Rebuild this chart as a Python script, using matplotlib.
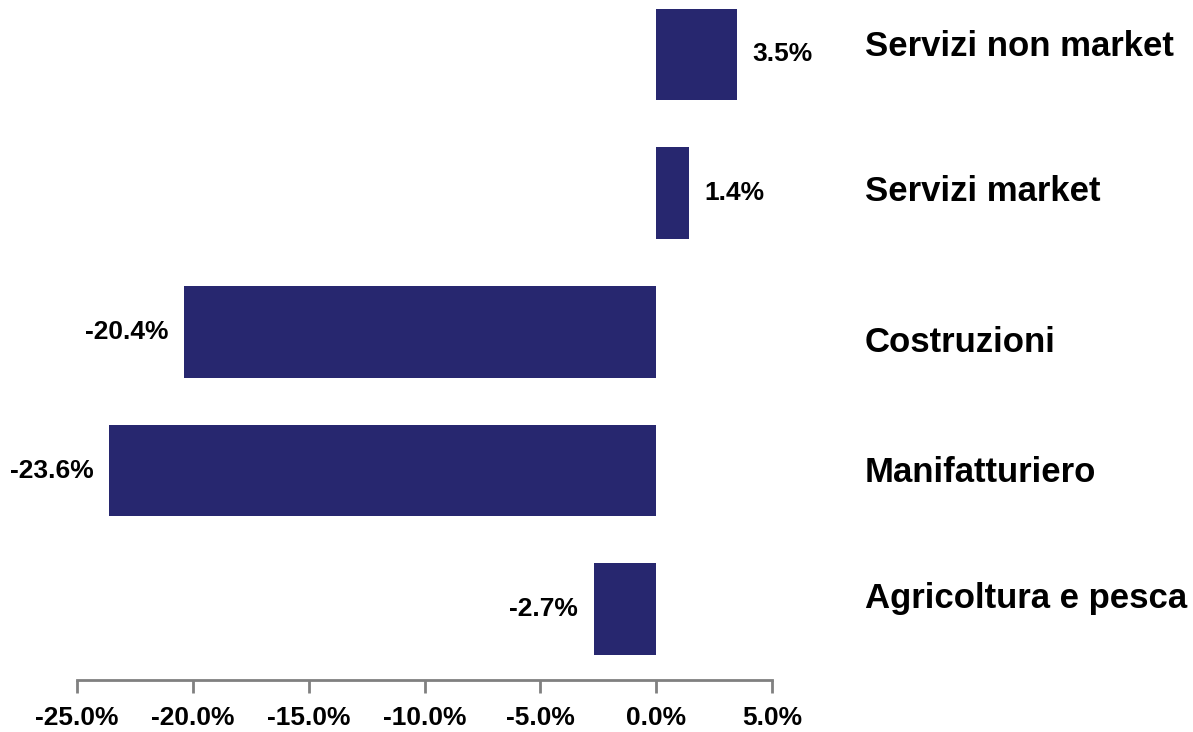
import matplotlib
matplotlib.use("Agg")
import matplotlib.pyplot as plt
from matplotlib.ticker import FuncFormatter
from matplotlib import transforms

# sectors, bottom to top
settori = ["Agricoltura e pesca", "Manifatturiero", "Costruzioni", "Servizi market", "Servizi non market"]
variazioni = [-2.7, -23.6, -20.4, 1.4, 3.5]
tick_vals = [-25, -20, -15, -10, -5, 0, 5]

bar_color = "#27276F"
fam = ["Liberation Sans", "DejaVu Sans"]

fig = plt.figure(figsize=(11.93, 7.32), dpi=100)
W, H = 1193, 732
# axes placed in pixels: x from 77 to 772, y from 680 up to -15
ax = fig.add_axes([77 / W, 52 / H, 695 / W, 695 / H])

pos = list(range(len(settori)))
ax.barh(pos, variazioni, height=0.66, color=bar_color)
ax.set_xlim(-25, 5)
ax.set_ylim(-0.51, 4.5)

for s in ["top", "right", "left"]:
    ax.spines[s].set_visible(False)
ax.spines["bottom"].set_color("#808080")
ax.spines["bottom"].set_linewidth(2)
ax.set_yticks([])
ax.set_xticks(tick_vals)
ax.xaxis.set_major_formatter(FuncFormatter(lambda v, p: "%.1f%%" % v))
ax.tick_params(axis="x", length=9, width=2, color="#808080", pad=10)
for lbl in ax.get_xticklabels():
    lbl.set_fontfamily(fam)
    lbl.set_fontweight("bold")
    lbl.set_fontsize(19)

# value labels
for y, v in zip(pos, variazioni):
    off = 11 if v >= 0 else -11
    ax.annotate("%.1f%%" % v, (v, y), xytext=(off, 0), textcoords="offset points",
                ha="left" if v >= 0 else "right", va="center",
                fontsize=19, fontweight="bold", family=fam)

# category names on the right (small vertical shifts in pixels, + = down)
shift_px = [-11, 2, 11, -2, -8]
for y, name, dy in zip(pos, settori, shift_px):
    trans = transforms.blended_transform_factory(fig.transFigure, ax.transData) + \
        transforms.ScaledTranslation(0, -dy / 100, fig.dpi_scale_trans)
    fig.text(865 / W, y, name, transform=trans, ha="left", va="center",
             fontsize=25, fontweight="bold", family=fam)

fig.savefig("out.png", dpi=100)
